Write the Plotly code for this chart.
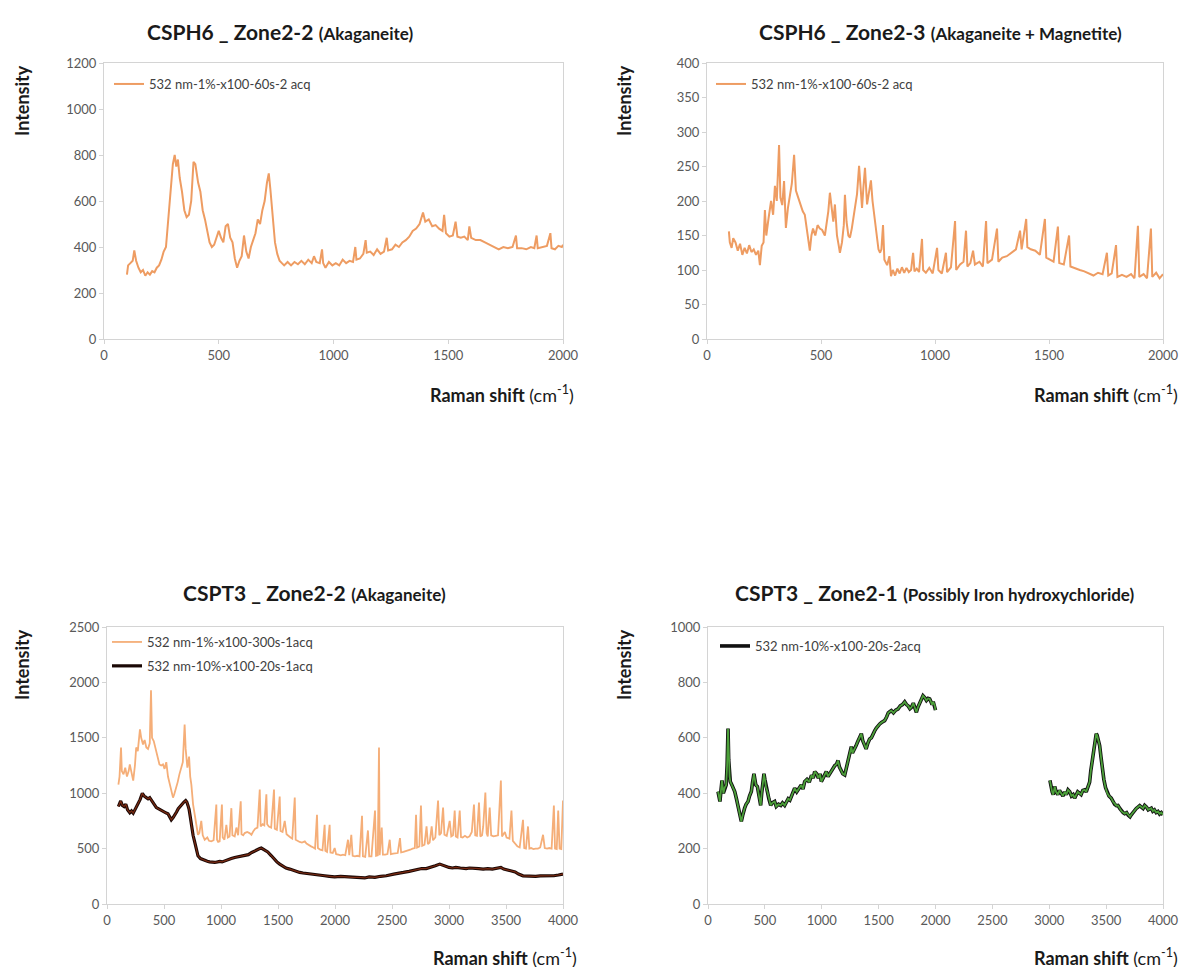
import plotly.graph_objects as go

W, H = 1189, 967
FONT = 'Lato'

# Raman spectra: (Raman shift cm-1, intensity)
csph6_z22 = [
    (100, 280), (105, 320), (115, 330), (125, 340), (132, 385), (140, 340), (150, 310), (160, 290), (170, 300),
    (180, 275), (190, 290), (200, 280), (210, 295), (220, 290), (230, 310), (240, 320), (250, 345), (260, 380),
    (270, 400), (280, 520), (290, 650), (300, 760), (308, 800), (315, 750), (322, 780), (330, 700), (340, 640),
    (350, 560), (360, 530), (370, 540), (380, 600), (390, 770), (398, 760), (410, 680), (420, 640), (430, 560),
    (440, 520), (450, 470), (460, 420), (470, 400), (480, 410), (490, 440), (500, 470), (510, 440), (520, 420),
    (530, 490), (540, 500), (550, 440), (560, 420), (570, 350), (580, 310), (590, 340), (600, 360), (610, 450),
    (620, 380), (630, 350), (640, 400), (650, 430), (660, 460), (670, 520), (680, 500), (690, 560), (700, 600),
    (710, 680), (718, 720), (725, 650), (735, 520), (745, 420), (755, 370), (765, 340), (775, 330), (785, 320),
    (800, 335), (815, 320), (830, 335), (845, 325), (860, 340), (875, 325), (890, 345), (905, 330), (915, 360),
    (925, 335), (940, 330), (950, 390), (955, 330), (965, 310), (980, 335), (995, 320), (1010, 330), (1025, 320),
    (1040, 345), (1055, 330), (1070, 340), (1085, 335), (1095, 400), (1100, 345), (1115, 350), (1130, 370),
    (1140, 430), (1145, 375), (1160, 380), (1175, 365), (1190, 390), (1205, 370), (1220, 380), (1232, 440),
    (1238, 385), (1255, 390), (1270, 410), (1285, 400), (1300, 420), (1315, 430), (1330, 445), (1345, 470),
    (1360, 480), (1375, 500), (1390, 550), (1400, 510), (1415, 520), (1430, 490), (1445, 495), (1460, 480),
    (1475, 470), (1482, 540), (1490, 460), (1505, 445), (1520, 450), (1532, 510), (1540, 445), (1555, 440),
    (1570, 445), (1585, 430), (1592, 490), (1600, 440), (1620, 430), (1640, 430), (1660, 420), (1680, 410),
    (1700, 400), (1720, 390), (1740, 400), (1760, 395), (1780, 400), (1795, 450), (1800, 395), (1820, 395),
    (1840, 390), (1860, 400), (1875, 395), (1885, 450), (1890, 395), (1910, 400), (1930, 405), (1945, 460),
    (1950, 395), (1965, 390), (1980, 405), (1995, 400), (2000, 410),
]

csph6_z23 = [
    (96, 156), (100, 140), (108, 132), (115, 146), (125, 140), (135, 128), (145, 138), (155, 122), (165, 132),
    (175, 124), (185, 136), (195, 126), (205, 130), (215, 122), (225, 128), (232, 107), (240, 135), (248, 140),
    (254, 187), (260, 150), (270, 175), (281, 200), (290, 180), (298, 222), (306, 200), (316, 281), (322, 205),
    (330, 194), (338, 229), (346, 161), (355, 190), (364, 209), (372, 225), (382, 267), (390, 215), (399, 206),
    (410, 195), (420, 185), (429, 180), (438, 160), (445, 140), (451, 128), (458, 150), (465, 160), (475, 150),
    (485, 165), (495, 160), (505, 158), (517, 150), (525, 170), (532, 185), (539, 212), (547, 190), (554, 170),
    (561, 195), (570, 150), (578, 135), (583, 125), (592, 140), (600, 165), (605, 209), (612, 170), (620, 150),
    (627, 147), (635, 160), (642, 175), (649, 187), (658, 210), (667, 251), (673, 215), (680, 190), (686, 220),
    (693, 248), (702, 195), (710, 215), (719, 230), (726, 200), (732, 185), (737, 171), (745, 150), (752, 130),
    (759, 125), (765, 130), (772, 165), (778, 115), (790, 107), (800, 120), (807, 91), (815, 100), (825, 92),
    (835, 102), (845, 95), (855, 104), (865, 96), (875, 103), (885, 97), (895, 100), (904, 125), (910, 98),
    (920, 102), (930, 97), (943, 145), (948, 100), (960, 96), (975, 103), (990, 95), (1009, 132), (1015, 100),
    (1030, 95), (1048, 125), (1053, 97), (1070, 104), (1088, 171), (1093, 100), (1110, 108), (1125, 112),
    (1136, 157), (1142, 105), (1155, 110), (1167, 128), (1175, 108), (1195, 112), (1210, 105), (1224, 171),
    (1230, 110), (1250, 115), (1272, 160), (1278, 112), (1295, 118), (1315, 120), (1335, 125), (1355, 130),
    (1373, 157), (1380, 130), (1400, 174), (1405, 133), (1420, 130), (1440, 128), (1460, 122), (1482, 174),
    (1488, 118), (1505, 115), (1520, 112), (1539, 163), (1545, 110), (1565, 108), (1588, 150), (1594, 105),
    (1615, 103), (1635, 100), (1655, 98), (1675, 95), (1695, 92), (1715, 96), (1735, 94), (1754, 125),
    (1760, 92), (1775, 95), (1794, 136), (1800, 90), (1820, 93), (1840, 90), (1860, 94), (1875, 88),
    (1890, 164), (1896, 90), (1915, 94), (1930, 88), (1947, 160), (1953, 90), (1970, 96), (1985, 88), (2000, 94),
]

cspt3_z22_1pct = [
    (100, 1078), (110, 1150), (123, 1413), (130, 1200), (145, 1170), (160, 1230), (175, 1150), (190, 1200),
    (200, 1260), (215, 1180), (230, 1114), (245, 1250), (256, 1413), (270, 1380), (289, 1576), (300, 1500),
    (316, 1440), (330, 1480), (345, 1413), (360, 1400), (375, 1450), (386, 1929), (395, 1500), (410, 1470),
    (425, 1400), (440, 1340), (447, 1295), (460, 1260), (475, 1250), (491, 1260), (505, 1220), (520, 1280),
    (535, 1150), (550, 1078), (565, 1010), (579, 960), (590, 990), (608, 1050), (620, 1100), (635, 1170),
    (652, 1230), (665, 1280), (681, 1620), (690, 1400), (705, 1230), (720, 1330), (730, 1150), (740, 1078),
    (755, 900), (769, 806), (785, 700), (798, 625), (810, 640), (827, 750), (840, 620), (857, 580), (880, 600),
    (895, 570), (915, 565), (935, 575), (959, 897), (965, 580), (975, 560), (988, 565), (1008, 897), (1015, 600),
    (1030, 580), (1047, 715), (1060, 600), (1075, 610), (1091, 865), (1100, 620), (1120, 610), (1135, 690),
    (1150, 620), (1173, 927), (1180, 630), (1195, 620), (1208, 640), (1230, 650), (1250, 640), (1267, 625),
    (1285, 660), (1300, 680), (1320, 690), (1340, 1033), (1348, 700), (1365, 720), (1380, 710), (1398, 990),
    (1405, 720), (1420, 700), (1440, 690), (1465, 1033), (1472, 680), (1490, 670), (1515, 970), (1522, 660),
    (1540, 650), (1559, 750), (1575, 630), (1595, 610), (1610, 600), (1625, 590), (1647, 960), (1655, 580),
    (1670, 570), (1690, 560), (1710, 555), (1735, 565), (1750, 545), (1770, 530), (1790, 520), (1810, 510),
    (1825, 500), (1842, 806), (1850, 505), (1870, 490), (1890, 485), (1909, 715), (1915, 480), (1930, 470),
    (1953, 715), (1960, 465), (1980, 460), (1997, 505), (2010, 450), (2030, 445), (2050, 440), (2070, 445),
    (2090, 440), (2114, 580), (2125, 440), (2143, 625), (2155, 435), (2175, 430), (2195, 435), (2215, 430),
    (2237, 797), (2245, 430), (2265, 425), (2289, 664), (2300, 430), (2320, 430), (2351, 843), (2360, 435),
    (2375, 440), (2386, 1413), (2392, 440), (2410, 690), (2420, 445), (2440, 445), (2460, 450), (2480, 580),
    (2490, 450), (2510, 455), (2530, 460), (2550, 460), (2570, 595), (2580, 465), (2600, 470), (2620, 475),
    (2640, 480), (2660, 490), (2680, 500), (2700, 505), (2711, 806), (2720, 510), (2740, 520), (2754, 888),
    (2765, 525), (2785, 535), (2803, 700), (2815, 540), (2830, 555), (2848, 700), (2860, 575), (2880, 600),
    (2904, 933), (2915, 620), (2930, 640), (2948, 870), (2960, 625), (2980, 615), (3006, 750), (3020, 610),
    (3035, 620), (3050, 843), (3060, 610), (3075, 600), (3094, 843), (3105, 605), (3120, 600), (3140, 615),
    (3160, 600), (3180, 610), (3200, 650), (3219, 897), (3230, 620), (3245, 615), (3263, 915), (3275, 610),
    (3290, 620), (3300, 700), (3319, 1005), (3330, 640), (3340, 610), (3357, 870), (3370, 620), (3390, 610),
    (3410, 615), (3430, 620), (3455, 1114), (3465, 610), (3490, 650), (3505, 600), (3530, 590), (3548, 843),
    (3560, 570), (3580, 545), (3600, 520), (3620, 510), (3649, 760), (3660, 505), (3675, 500), (3693, 700),
    (3705, 500), (3720, 505), (3740, 495), (3760, 500), (3780, 500), (3800, 510), (3825, 625), (3840, 505),
    (3860, 500), (3880, 505), (3900, 500), (3920, 888), (3930, 500), (3945, 495), (3958, 843), (3970, 500),
    (3985, 495), (4000, 933),
]

cspt3_z22_10pct = [
    (100, 880), (110, 915), (120, 930), (135, 890), (150, 880), (165, 900), (180, 850), (200, 824), (215, 840),
    (230, 820), (245, 850), (260, 870), (275, 900), (290, 942), (310, 999), (325, 975), (345, 960), (360, 950),
    (375, 960), (386, 942), (400, 920), (415, 900), (433, 870), (450, 860), (477, 842), (500, 830), (520, 820),
    (535, 815), (550, 790), (564, 760), (580, 780), (594, 800), (610, 830), (625, 860), (640, 880), (660, 900),
    (675, 920), (690, 933), (700, 920), (710, 890), (720, 855), (730, 790), (740, 700), (755, 620), (769, 560),
    (785, 490), (798, 435), (820, 410), (840, 400), (857, 390), (880, 385), (900, 380), (920, 378), (945, 375),
    (970, 380), (990, 385), (1010, 380), (1033, 390), (1060, 395), (1090, 410), (1120, 420), (1150, 425),
    (1180, 430), (1208, 435), (1240, 445), (1270, 465), (1296, 480), (1320, 495), (1340, 500), (1354, 505),
    (1370, 495), (1390, 490), (1410, 470), (1442, 435), (1470, 400), (1490, 380), (1515, 360), (1540, 345),
    (1570, 325), (1603, 315), (1640, 300), (1670, 290), (1690, 285), (1720, 280), (1750, 275), (1792, 270),
    (1830, 265), (1870, 258), (1909, 255), (1950, 250), (1997, 245), (2050, 250), (2100, 245), (2150, 240),
    (2222, 240), (2260, 235), (2300, 245), (2350, 240), (2400, 250), (2450, 255), (2515, 270), (2560, 275),
    (2600, 285), (2650, 295), (2690, 305), (2728, 315), (2760, 320), (2800, 320), (2840, 330), (2880, 345),
    (2919, 360), (2945, 350), (2970, 335), (3000, 330), (3030, 325), (3060, 330), (3100, 325), (3150, 320),
    (3180, 325), (3219, 325), (3260, 320), (3300, 315), (3340, 320), (3380, 315), (3420, 320), (3455, 330),
    (3480, 315), (3510, 305), (3540, 300), (3580, 290), (3610, 270), (3649, 254), (3680, 252), (3720, 256),
    (3760, 250), (3800, 254), (3840, 254), (3880, 258), (3920, 255), (3960, 262), (4000, 270),
]

cspt3_z21_low = [
    (88, 406), (96, 380), (105, 370), (114, 410), (123, 446), (135, 400), (147, 420), (160, 430), (168, 500),
    (176, 633), (182, 520), (190, 460), (196, 442), (210, 430), (220, 420), (235, 406), (250, 380), (264, 356),
    (275, 330), (285, 310), (293, 298), (305, 320), (315, 340), (322, 346), (335, 360), (352, 370), (365, 390),
    (381, 406), (392, 440), (404, 470), (412, 450), (420, 430), (434, 424), (445, 400), (455, 380), (463, 356),
    (472, 400), (480, 440), (492, 470), (500, 450), (510, 420), (522, 406), (535, 380), (551, 356), (565, 365),
    (586, 370), (600, 352), (620, 360), (640, 356), (655, 365), (674, 356), (690, 370), (705, 380), (720, 375),
    (740, 395), (762, 418), (780, 405), (800, 420), (820, 430), (835, 415), (850, 442), (870, 450), (890, 440),
    (910, 465), (925, 455), (938, 478), (955, 470), (970, 455), (985, 470), (996, 442), (1010, 455), (1025, 470),
    (1040, 478), (1055, 460), (1070, 470), (1085, 485), (1100, 490), (1115, 500), (1130, 505), (1143, 518),
    (1155, 495), (1170, 480), (1185, 470), (1202, 466), (1215, 490), (1230, 510), (1245, 540), (1260, 568),
    (1270, 545), (1285, 555), (1300, 570), (1315, 585), (1330, 600), (1348, 615), (1360, 590), (1375, 575),
    (1390, 560), (1405, 580), (1420, 595), (1436, 600), (1450, 615), (1465, 625), (1480, 635), (1495, 644),
    (1510, 650), (1525, 655), (1540, 660), (1553, 662), (1570, 675), (1585, 690), (1600, 695), (1612, 698),
    (1630, 690), (1650, 700), (1670, 704), (1690, 715), (1710, 720), (1729, 730), (1745, 720), (1760, 715),
    (1775, 705), (1788, 710), (1805, 725), (1820, 705), (1832, 692), (1845, 710), (1860, 725), (1875, 740),
    (1890, 752), (1905, 745), (1920, 735), (1935, 742), (1949, 740), (1960, 730), (1970, 720), (1980, 730),
    (1993, 716), (2000, 700),
]

cspt3_z21_high = [
    (3006, 446), (3015, 420), (3026, 404), (3035, 395), (3048, 424), (3060, 405), (3075, 395), (3090, 410),
    (3106, 400), (3120, 390), (3135, 405), (3150, 395), (3165, 412), (3180, 405), (3195, 390), (3210, 395),
    (3223, 382), (3235, 395), (3250, 405), (3265, 400), (3280, 395), (3295, 410), (3311, 412), (3325, 405),
    (3340, 420), (3355, 440), (3365, 480), (3375, 510), (3384, 536), (3395, 570), (3405, 595), (3413, 615),
    (3420, 610), (3430, 590), (3443, 572), (3455, 530), (3465, 490), (3480, 450), (3495, 420), (3510, 400),
    (3525, 390), (3545, 382), (3560, 370), (3575, 360), (3590, 355), (3604, 356), (3620, 345), (3635, 335),
    (3650, 330), (3663, 326), (3680, 330), (3695, 320), (3710, 315), (3721, 322), (3735, 330), (3750, 340),
    (3765, 345), (3780, 350), (3795, 355), (3810, 350), (3825, 345), (3839, 356), (3855, 350), (3870, 340),
    (3885, 345), (3897, 346), (3910, 335), (3925, 340), (3940, 330), (3956, 334), (3970, 325), (3985, 330),
    (4000, 322),
]


def xs(pts):
    return [p[0] for p in pts]


def ys(pts):
    return [p[1] for p in pts]


def px(x):
    return x / W


def py(y):
    return 1 - y / H


fig = go.Figure()

# 上左
fig.add_trace(go.Scatter(x=xs(csph6_z22), y=ys(csph6_z22), mode='lines', name='532 nm-1%-x100-60s-2 acq',
                         line={'color': '#EE9C62', 'width': 2}, xaxis='x', yaxis='y', legend='legend'))
# 上右
fig.add_trace(go.Scatter(x=xs(csph6_z23), y=ys(csph6_z23), mode='lines', name='532 nm-1%-x100-60s-2 acq',
                         line={'color': '#EE9C62', 'width': 2}, xaxis='x2', yaxis='y2', legend='legend2'))
# 下左
fig.add_trace(go.Scatter(x=xs(cspt3_z22_1pct), y=ys(cspt3_z22_1pct), mode='lines', name='532 nm-1%-x100-300s-1acq',
                         line={'color': '#F5AE78', 'width': 1.8}, xaxis='x3', yaxis='y3',
                         legend='legend3', legendgroup='a'))
fig.add_trace(go.Scatter(x=xs(cspt3_z22_10pct), y=ys(cspt3_z22_10pct), mode='lines', name='532 nm-10%-x100-20s-1acq',
                         line={'color': '#1a0805', 'width': 3.2}, xaxis='x3', yaxis='y3',
                         legend='legend3', legendgroup='b'))
fig.add_trace(go.Scatter(x=xs(cspt3_z22_10pct), y=ys(cspt3_z22_10pct), mode='lines', showlegend=False,
                         line={'color': '#7a2a12', 'width': 1.2}, xaxis='x3', yaxis='y3', hoverinfo='skip'))
# 下右 (gap between 2000 and 3000)
z21_x = xs(cspt3_z21_low) + [None] + xs(cspt3_z21_high)
z21_y = ys(cspt3_z21_low) + [None] + ys(cspt3_z21_high)
fig.add_trace(go.Scatter(x=z21_x, y=z21_y, mode='lines', name='532 nm-10%-x100-20s-2acq',
                         line={'color': '#111111', 'width': 3.6}, xaxis='x4', yaxis='y4', legend='legend4'))
fig.add_trace(go.Scatter(x=z21_x, y=z21_y, mode='lines', showlegend=False,
                         line={'color': '#4CA03A', 'width': 1.8}, xaxis='x4', yaxis='y4', hoverinfo='skip'))

axis_style = dict(
    showline=True, mirror=True, linecolor='#d4d4d4', linewidth=1,
    ticks='outside', ticklen=4, tickcolor='#d4d4d4',
    showgrid=False, zeroline=False, automargin=False,
    tickfont={'family': FONT, 'size': 13, 'color': '#595959'},
)

top_y = [py(331), py(55)]
bot_y = [py(896), py(619)]

fig.update_layout(
    width=W, height=H,
    margin={'l': 0, 'r': 0, 't': 0, 'b': 0},
    paper_bgcolor='white', plot_bgcolor='white',
    font={'family': FONT, 'color': '#262626'},
    xaxis=dict(axis_style, domain=[px(96), px(555)], range=[0, 2000], dtick=500, anchor='y'),
    yaxis=dict(axis_style, domain=top_y, range=[0, 1200], dtick=200, anchor='x'),
    xaxis2=dict(axis_style, domain=[px(699), px(1155)], range=[0, 2000], dtick=500, anchor='y2'),
    yaxis2=dict(axis_style, domain=top_y, range=[0, 400], dtick=50, anchor='x2'),
    xaxis3=dict(axis_style, domain=[px(99), px(555)], range=[0, 4000], dtick=500, anchor='y3'),
    yaxis3=dict(axis_style, domain=bot_y, range=[0, 2500], dtick=500, anchor='x3'),
    xaxis4=dict(axis_style, domain=[px(700), px(1155)], range=[0, 4000], dtick=500, anchor='y4'),
    yaxis4=dict(axis_style, domain=bot_y, range=[0, 1000], dtick=200, anchor='x4'),
)

legend_style = dict(xanchor='left', yanchor='top', bgcolor='rgba(0,0,0,0)', tracegroupgap=4,
                    font={'family': FONT, 'size': 13, 'color': '#404040'}, itemwidth=30)
fig.update_layout(
    legend=dict(legend_style, x=px(101), y=py(61)),
    legend2=dict(legend_style, x=px(703), y=py(61)),
    legend3=dict(legend_style, x=px(99), y=py(619)),
    legend4=dict(legend_style, x=px(707), y=py(623)),
)

titles = [
    ('CSPH6 _ Zone2-2', '(Akaganeite)', 272, 23),
    ('CSPH6 _ Zone2-3', '(Akaganeite + Magnetite)', 932, 23),
    ('CSPT3 _ Zone2-2', '(Akaganeite)', 306, 584),
    ('CSPT3 _ Zone2-1', '(Possibly Iron hydroxychloride)', 927, 584),
]
for main, sub, cx, cy in titles:
    fig.add_annotation(
        text=f'<b>{main}</b> <span style="font-size:17px"><b>{sub}</b></span>',
        x=px(cx), y=py(cy), xref='paper', yref='paper', showarrow=False,
        xanchor='center', yanchor='middle', font={'family': FONT, 'size': 21, 'color': '#1a1a1a'},
    )

for rx, ry in [(494, 386), (1098, 386), (497, 949), (1098, 949)]:
    fig.add_annotation(
        text='<b>Raman shift</b> (cm<sup>-1</sup>)',
        x=px(rx), y=py(ry), xref='paper', yref='paper', showarrow=False,
        xanchor='center', yanchor='middle', font={'family': FONT, 'size': 18, 'color': '#1a1a1a'},
    )

for ix, iy in [(14, 93), (616, 93), (14, 657), (616, 657)]:
    fig.add_annotation(
        text='<b>Intensity</b>', textangle=-90,
        x=px(ix), y=py(iy), xref='paper', yref='paper', showarrow=False,
        xanchor='center', yanchor='middle', font={'family': FONT, 'size': 18, 'color': '#1a1a1a'},
    )

fig.write_html('out.html')
